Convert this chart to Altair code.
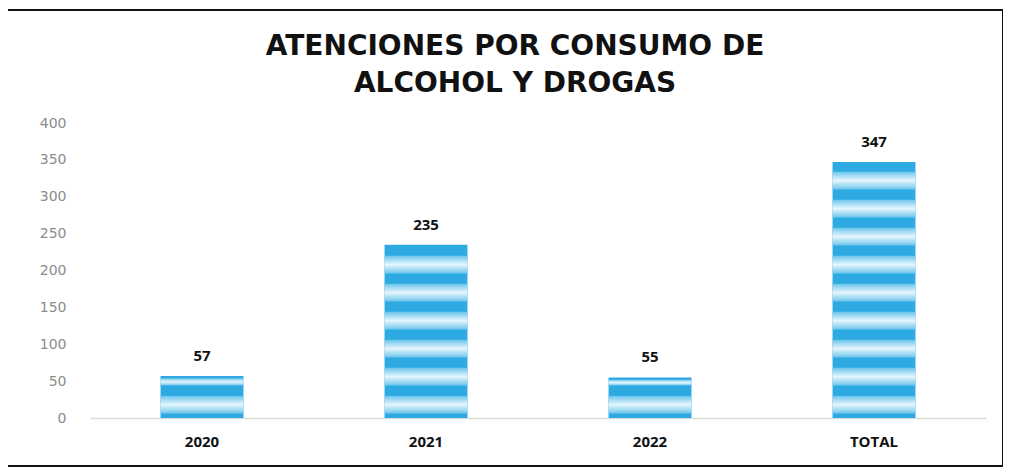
import altair as alt
import pandas as pd

categories = ["2020", "2021", "2022", "TOTAL"]
values = [57, 235, 55, 347]
y_ticks = [0, 50, 100, 150, 200, 250, 300, 350, 400]
title_lines = ["ATENCIONES POR CONSUMO DE", "ALCOHOL Y DROGAS"]

df = pd.DataFrame({"cat": categories, "val": values})

W, H = 896, 295

x_axis = alt.Axis(labelAngle=0, ticks=False, domainColor="#dcdcdc", domainWidth=1.5,
                  labelFont="Open Sans", labelFontWeight="bold", labelFontSize=15,
                  labelColor="#111", labelPadding=16, title=None)
x_scale = alt.Scale(paddingInner=0.63, paddingOuter=0.315)
y_scale = alt.Scale(domain=[0, 400])
y_axis = alt.Axis(values=y_ticks, grid=False, ticks=False, domain=False, labelPadding=24,
                  labelOverlap=False, labelFont="DejaVu Sans", labelFontSize=14,
                  labelColor="#8c8c8c", title=None)

def xe():
    return alt.X("cat:N", sort=categories, scale=x_scale, axis=x_axis, title=None)

base = alt.Chart(df)

bars = base.mark_bar(color="#2eaae2").encode(
    x=xe(),
    y=alt.Y("val:Q", scale=y_scale, axis=y_axis, title=None),
)

stripes = base.transform_calculate(
    s="sequence(6, datum.val - 6, 38)"
).transform_flatten(["s"]).transform_calculate(
    s2="min(datum.s + 24, datum.val - 3)"
).mark_bar(
    color=alt.Gradient(gradient="linear", x1=0, y1=0, x2=0, y2=1,
                       stops=[alt.GradientStop(color="#6cc5ec", offset=0),
                              alt.GradientStop(color="#e6f6fd", offset=0.5),
                              alt.GradientStop(color="#6cc5ec", offset=1)])
).encode(
    x=xe(),
    y=alt.Y("s:Q", scale=y_scale, axis=y_axis, title=None),
    y2="s2:Q",
)

labels = base.mark_text(font="Open Sans", fontWeight="bold", fontSize=15, color="#111",
                        baseline="bottom", dy=-12).encode(
    x=xe(),
    y=alt.Y("val:Q", scale=y_scale, axis=y_axis, title=None),
    text="val:Q",
)

title1 = alt.Chart(pd.DataFrame({"t": [title_lines[0]]})).mark_text(
    font="DejaVu Sans", fontWeight="bold", fontSize=28, color="#111", baseline="middle"
).encode(text="t:N", x=alt.value(425), y=alt.value(-76))
title2 = alt.Chart(pd.DataFrame({"t": [title_lines[1]]})).mark_text(
    font="DejaVu Sans", fontWeight="bold", fontSize=28, color="#111", baseline="middle"
).encode(text="t:N", x=alt.value(425), y=alt.value(-39))

frame = base.mark_rect(fill=None, stroke="#111", strokeWidth=2).encode(
    x=alt.value(-83), x2=alt.value(913), y=alt.value(-113), y2=alt.value(343)
)

chart = alt.layer(bars, stripes, labels, title1, title2, frame).properties(
    width=W, height=H,
    background="white",
    autosize=alt.AutoSizeParams(type="none"),
    padding={"left": 82, "top": 115, "right": 17, "bottom": 50},
).configure_view(strokeWidth=0, stroke="transparent")

chart.save("out.html", embed_options={"renderer": "svg", "actions": False})
